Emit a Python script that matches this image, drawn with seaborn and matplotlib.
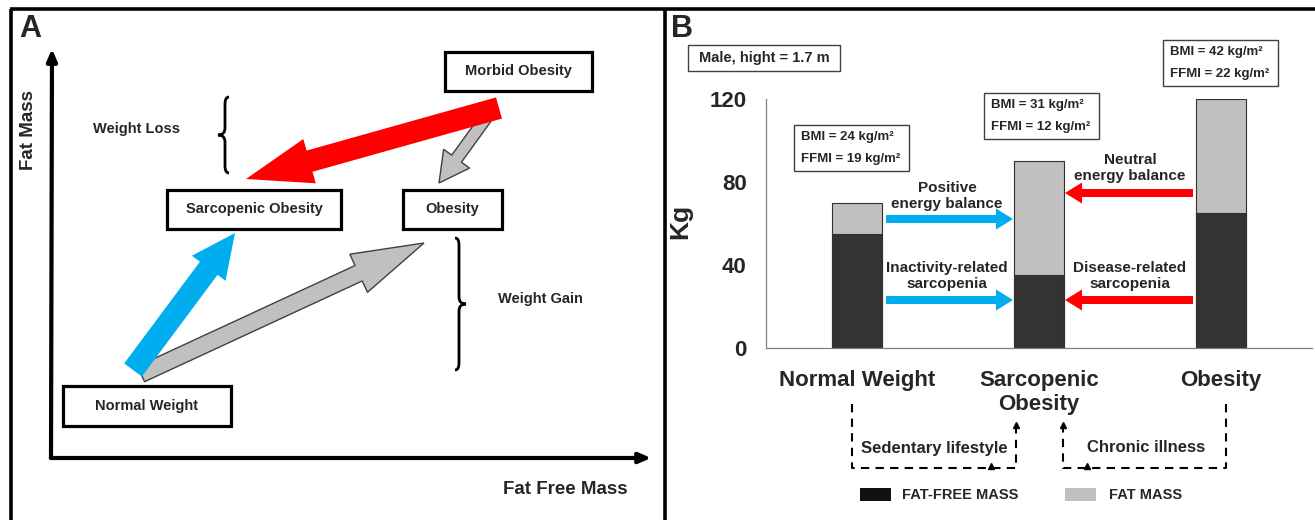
import numpy as np
import matplotlib
matplotlib.use("Agg")
import matplotlib.pyplot as plt
import pandas as pd
import seaborn as sns
from matplotlib.patches import Rectangle, FancyArrow, PathPatch
from matplotlib.path import Path

# data for panel B
categories = ["Normal Weight", "Sarcopenic\nObesity", "Obesity"]
fat_free_mass = [55, 35, 65]
fat_mass = [15, 55, 55]
total_mass = [a + b for a, b in zip(fat_free_mass, fat_mass)]
y_ticks = [0, 40, 80, 120]
bmi = [24, 31, 42]
ffmi = [19, 12, 22]

sns.set_style("white")
plt.rcParams['font.family'] = ['Liberation Sans', 'DejaVu Sans']
narrow = ['Liberation Sans', 'DejaVu Sans']

fig = plt.figure(figsize=(13.15, 5.2), dpi=100)

# ---- panel B bar chart ----
ax = fig.add_axes([766 / 1315, 172 / 520, 546 / 1315, 249 / 520])
df = pd.DataFrame({"state": categories, "total": total_mass, "ffm": fat_free_mass})
sns.barplot(data=df, x="state", y="total", color="#c0c0c0", saturation=1,
            width=0.27, edgecolor="#303030", linewidth=0.8, ax=ax)
sns.barplot(data=df, x="state", y="ffm", color="#333333", saturation=1,
            width=0.27, edgecolor="#303030", linewidth=0.8, ax=ax)
ax.set_xlim(-0.5, 2.5)
ax.set_ylim(0, 120)
ax.set_yticks(y_ticks)
ax.set_yticklabels([str(t) for t in y_ticks], fontsize=16, fontweight="bold")
ax.set_xticks([0, 1, 2])
ax.set_xticklabels(categories, fontsize=16, fontweight="bold", linespacing=1.15)
ax.set_xticks([-0.5, 0.5, 1.5, 2.5], minor=True)
ax.tick_params(axis="x", which="major", length=0, pad=16)
ax.tick_params(axis="x", which="minor", length=7, color="#808080", direction="out")
ax.tick_params(axis="y", length=6, color="#808080", direction="out", pad=8)
ax.set_xlabel("")
ax.set_ylabel("Kg", fontsize=19, fontweight="bold")
ax.yaxis.set_label_coords(-0.135, 0.51)
for s in ["top", "right"]:
    ax.spines[s].set_visible(False)
for s in ["left", "bottom"]:
    ax.spines[s].set_color("#808080")
    ax.spines[s].set_linewidth(0.9)

# ---- overlay in pixel coordinates ----
ov = fig.add_axes([0, 0, 1, 1])
ov.set_xlim(0, 1315)
ov.set_ylim(520, 0)
ov.axis("off")

# frame
for xs, ys in [((10, 1315), (9, 9)), ((11, 11), (9, 520)), ((665, 665), (9, 520))]:
    ov.plot(xs, ys, color="black", lw=2.6, solid_capstyle="butt")

ov.text(19, 14, "A", fontsize=22, fontweight="bold", va="top", family=narrow)
ov.text(671, 14, "B", fontsize=22, fontweight="bold", va="top")

# panel A axes
ov.annotate("", xy=(52, 46), xytext=(51, 460),
            arrowprops=dict(arrowstyle="-|>,head_length=0.7,head_width=0.3", lw=3, color="black"))
ov.annotate("", xy=(654, 458), xytext=(48, 458),
            arrowprops=dict(arrowstyle="-|>,head_length=0.7,head_width=0.3", lw=3, color="black"))
ov.text(29, 130, "Fat Mass", rotation=90, fontsize=13.5, fontweight="bold",
        ha="center", va="center", family=narrow)
ov.text(565, 490, "Fat Free Mass", fontsize=13.5, fontweight="bold",
        ha="center", va="center", family=narrow)

# state boxes
boxes_a = [("Morbid Obesity", 445, 52, 592, 91),
           ("Sarcopenic Obesity", 167, 190, 341, 229),
           ("Obesity", 403, 190, 502, 229),
           ("Normal Weight", 63, 386, 231, 426)]
for label, x0, y0, x1, y1 in boxes_a:
    ov.add_patch(Rectangle((x0, y0), x1 - x0, y1 - y0, fill=False, ec="black", lw=2.3))
    ov.text((x0 + x1) / 2, (y0 + y1) / 2, label, fontsize=10.5, fontweight="bold",
            ha="center", va="center", family=narrow)

ov.text(137, 129, "Weight Loss", fontsize=10.5, fontweight="bold", ha="center", va="center", family=narrow)
ov.text(540, 299, "Weight Gain", fontsize=10.5, fontweight="bold", ha="center", va="center", family=narrow)


def brace(s, y0, y1, d, e=4, t=7, r=7):
    ym = (y0 + y1) / 2
    verts = [(s - d * e, y0), (s, y0), (s, y0 + r), (s, ym - r), (s, ym), (s + d * t, ym),
             (s, ym), (s, ym + r), (s, y1 - r), (s, y1), (s - d * e, y1)]
    codes = [Path.MOVETO, Path.CURVE3, Path.CURVE3, Path.LINETO, Path.CURVE3, Path.CURVE3,
             Path.CURVE3, Path.CURVE3, Path.LINETO, Path.CURVE3, Path.CURVE3]
    ov.add_patch(PathPatch(Path(verts, codes), fill=False, ec="black", lw=2))


brace(225, 97, 173, -1)
brace(459, 238, 370, 1)


def big_arrow(x0, y0, x1, y1, w, hw, hl, fc, ec="none", z=3):
    ov.add_patch(FancyArrow(x0, y0, x1 - x0, y1 - y0, width=w, head_width=hw, head_length=hl,
                            length_includes_head=True, fc=fc, ec=ec, lw=1, zorder=z))


big_arrow(486, 118, 439, 183, 12, 32, 30, "#c0c0c0", "#404040", 2)
big_arrow(499, 108, 246, 179, 22, 46, 66, "#ff0000", "none", 3)
big_arrow(141, 374, 424, 243, 17, 42, 72, "#c0c0c0", "#404040", 2)
big_arrow(133, 370, 235, 233, 22, 42, 44, "#00aeef", "none", 3)

# ---- panel B annotations ----
ov.add_patch(Rectangle((688, 45), 152, 26, fill=False, ec="#404040", lw=1))
ov.text(764, 58, "Male, hight = 1.7 m", fontsize=10.5, fontweight="bold", ha="center", va="center")

info_boxes = [(794, 125), (984, 93), (1163, 40)]
for (bx, by), b, f in zip(info_boxes, bmi, ffmi):
    ov.add_patch(Rectangle((bx, by), 115, 46, fill=False, ec="#404040", lw=1))
    ov.text(bx + 7, by + 12, f"BMI = {b} kg/m²", fontsize=9.5, fontweight="bold", va="center")
    ov.text(bx + 7, by + 34, f"FFMI = {f} kg/m²", fontsize=9.5, fontweight="bold", va="center")


def flat_arrow(x0, x1, y, fc):
    ov.add_patch(FancyArrow(x0, y, x1 - x0, 0, width=8, head_width=21, head_length=17,
                            length_includes_head=True, fc=fc, ec="none"))


flat_arrow(886, 1013, 219, "#00aeef")
flat_arrow(1193, 1065, 193, "#ff0000")
flat_arrow(886, 1013, 300, "#00aeef")
flat_arrow(1193, 1065, 300, "#ff0000")
ov.text(947, 196, "Positive\nenergy balance", fontsize=11, fontweight="bold", ha="center", va="center")
ov.text(1130, 168, "Neutral\nenergy balance", fontsize=11, fontweight="bold", ha="center", va="center")
ov.text(947, 276, "Inactivity-related\nsarcopenia", fontsize=11, fontweight="bold", ha="center", va="center")
ov.text(1130, 276, "Disease-related\nsarcopenia", fontsize=11, fontweight="bold", ha="center", va="center")

# dashed feedback loops
ov.plot([852, 852, 1016, 1016], [404, 468, 468, 429], ls=(0, (4, 3)), color="black", lw=1.5)
ov.plot([1226, 1226, 1063, 1063], [404, 468, 468, 429], ls=(0, (4, 3)), color="black", lw=1.5)
ov.plot([1016, 1063], [425, 425], ls="none", marker="^", ms=5, color="black")
ov.plot([991, 1087], [466, 466], ls="none", marker="^", ms=4, color="black")
ov.text(934, 448, "Sedentary lifestyle", fontsize=12, fontweight="bold", ha="center", va="center")
ov.text(1146, 448, "Chronic illness", fontsize=12, fontweight="bold", ha="center", va="center")

# legend
ov.add_patch(Rectangle((860, 488), 31, 13, fc="#111111", ec="none"))
ov.text(902, 495, "FAT-FREE MASS", fontsize=10.5, fontweight="bold", va="center")
ov.add_patch(Rectangle((1065, 488), 31, 13, fc="#c0c0c0", ec="none"))
ov.text(1109, 495, "FAT MASS", fontsize=10.5, fontweight="bold", va="center")

fig.savefig("out.png", dpi=100)
